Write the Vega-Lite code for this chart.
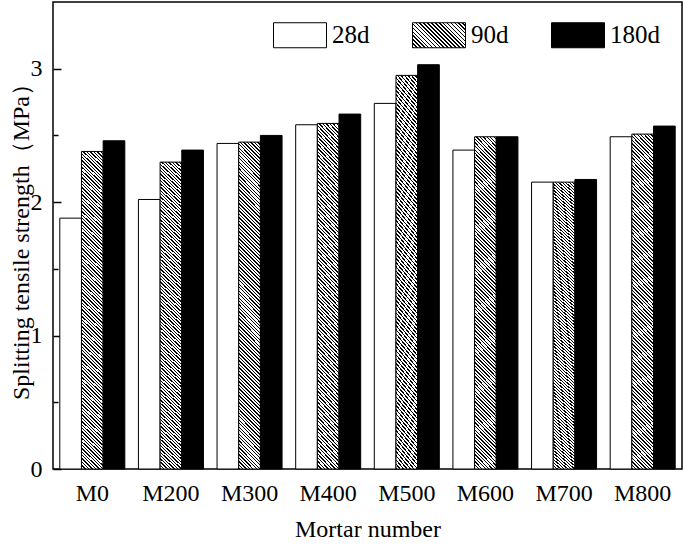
{
"$schema":"https://vega.github.io/schema/vega-lite/v6.json",
"width":629,"height":467,
"autosize":{"type":"none"},
"padding":{"left":53,"top":2,"right":3,"bottom":77},
"background":"white",
"params":[{"name":"hatchL","value":{"gradient":"linear","x1":0,"y1":1,"x2":1.204,"y2":0.432,"stops":[
{"offset":0,"color":"#000"},{"offset":0.02,"color":"#000"},{"offset":0.02,"color":"#fff"},{"offset":0.05,"color":"#fff"},
{"offset":0.05,"color":"#000"},{"offset":0.07,"color":"#000"},{"offset":0.07,"color":"#fff"},{"offset":0.1,"color":"#fff"},
{"offset":0.1,"color":"#000"},{"offset":0.12,"color":"#000"},{"offset":0.12,"color":"#fff"},{"offset":0.15,"color":"#fff"},
{"offset":0.15,"color":"#000"},{"offset":0.17,"color":"#000"},{"offset":0.17,"color":"#fff"},{"offset":0.2,"color":"#fff"},
{"offset":0.2,"color":"#000"},{"offset":0.22,"color":"#000"},{"offset":0.22,"color":"#fff"},{"offset":0.25,"color":"#fff"},
{"offset":0.25,"color":"#000"},{"offset":0.27,"color":"#000"},{"offset":0.27,"color":"#fff"},{"offset":0.3,"color":"#fff"},
{"offset":0.3,"color":"#000"},{"offset":0.32,"color":"#000"},{"offset":0.32,"color":"#fff"},{"offset":0.35,"color":"#fff"},
{"offset":0.35,"color":"#000"},{"offset":0.37,"color":"#000"},{"offset":0.37,"color":"#fff"},{"offset":0.4,"color":"#fff"},
{"offset":0.4,"color":"#000"},{"offset":0.42,"color":"#000"},{"offset":0.42,"color":"#fff"},{"offset":0.45,"color":"#fff"},
{"offset":0.45,"color":"#000"},{"offset":0.47,"color":"#000"},{"offset":0.47,"color":"#fff"},{"offset":0.5,"color":"#fff"},
{"offset":0.5,"color":"#000"},{"offset":0.52,"color":"#000"},{"offset":0.52,"color":"#fff"},{"offset":0.55,"color":"#fff"},
{"offset":0.55,"color":"#000"},{"offset":0.57,"color":"#000"},{"offset":0.57,"color":"#fff"},{"offset":0.6,"color":"#fff"},
{"offset":0.6,"color":"#000"},{"offset":0.62,"color":"#000"},{"offset":0.62,"color":"#fff"},{"offset":0.65,"color":"#fff"},
{"offset":0.65,"color":"#000"},{"offset":0.67,"color":"#000"},{"offset":0.67,"color":"#fff"},{"offset":0.7,"color":"#fff"},
{"offset":0.7,"color":"#000"},{"offset":0.72,"color":"#000"},{"offset":0.72,"color":"#fff"},{"offset":0.75,"color":"#fff"},
{"offset":0.75,"color":"#000"},{"offset":0.77,"color":"#000"},{"offset":0.77,"color":"#fff"},{"offset":0.8,"color":"#fff"},
{"offset":0.8,"color":"#000"},{"offset":0.82,"color":"#000"},{"offset":0.82,"color":"#fff"},{"offset":0.85,"color":"#fff"},
{"offset":0.85,"color":"#000"},{"offset":0.87,"color":"#000"},{"offset":0.87,"color":"#fff"},{"offset":0.9,"color":"#fff"},
{"offset":0.9,"color":"#000"},{"offset":0.92,"color":"#000"},{"offset":0.92,"color":"#fff"},{"offset":0.95,"color":"#fff"},
{"offset":0.95,"color":"#000"},{"offset":0.97,"color":"#000"},{"offset":0.97,"color":"#fff"},{"offset":1,"color":"#fff"}
]}}],
"config":{"view":{"stroke":"black","strokeWidth":1.5},"font":"'Liberation Serif', 'Times New Roman', serif",
"axis":{"labelColor":"black","titleColor":"black","labelFont":"'Liberation Serif', 'Times New Roman', serif","titleFont":"'Liberation Serif', 'Times New Roman', serif","tickColor":"black","grid":false,"domain":false,"titleFontWeight":"normal","labelFontSize":24,"titleFontSize":24}},
"data":{"values":[
{"mortar":"M0","age":"28d","value":1.88},{"mortar":"M0","age":"90d","value":2.38},{"mortar":"M0","age":"180d","value":2.46},
{"mortar":"M200","age":"28d","value":2.02},{"mortar":"M200","age":"90d","value":2.30},{"mortar":"M200","age":"180d","value":2.39},
{"mortar":"M300","age":"28d","value":2.44},{"mortar":"M300","age":"90d","value":2.45},{"mortar":"M300","age":"180d","value":2.50},
{"mortar":"M400","age":"28d","value":2.58},{"mortar":"M400","age":"90d","value":2.59},{"mortar":"M400","age":"180d","value":2.66},
{"mortar":"M500","age":"28d","value":2.74},{"mortar":"M500","age":"90d","value":2.95},{"mortar":"M500","age":"180d","value":3.03},
{"mortar":"M600","age":"28d","value":2.39},{"mortar":"M600","age":"90d","value":2.49},{"mortar":"M600","age":"180d","value":2.49},
{"mortar":"M700","age":"28d","value":2.15},{"mortar":"M700","age":"90d","value":2.15},{"mortar":"M700","age":"180d","value":2.17},
{"mortar":"M800","age":"28d","value":2.49},{"mortar":"M800","age":"90d","value":2.51},{"mortar":"M800","age":"180d","value":2.57}
]},
"layer":[
{"mark":{"type":"bar","stroke":"black","strokeWidth":1},
"encoding":{
"x":{"field":"mortar","type":"nominal","sort":["M0","M200","M300","M400","M500","M600","M700","M800"],"scale":{"paddingInner":0.173,"paddingOuter":0.0865},
"axis":{"title":"Mortar number","labelAngle":0,"ticks":false,"labelPadding":12,"titlePadding":12}},
"xOffset":{"field":"age","type":"nominal","sort":["28d","90d","180d"],"scale":{"paddingInner":0,"paddingOuter":0}},
"y":{"field":"value","type":"quantitative","scale":{"domain":[0,3.5],"nice":false,"zero":true},
"axis":{"title":"Splitting tensile strength（MPa）","values":[0,1,2,3],"tickSize":-8,"tickWidth":1.5,"labelPadding":19,"titlePadding":-3}},
"fill":{"field":"age","type":"nominal","scale":{"domain":["28d","90d","180d"],"range":["white",{"expr":"hatchL"},"black"]},
"condition":{"test":"datum.age === '90d'","value":{"gradient":"linear","x1":0,"y1":1,"x2":0.0708,"y2":-0.062,"stops":[
{"offset":0,"color":"#000"},{"offset":0.004,"color":"#000"},{"offset":0.004,"color":"#fff"},{"offset":0.01,"color":"#fff"},
{"offset":0.01,"color":"#000"},{"offset":0.014,"color":"#000"},{"offset":0.014,"color":"#fff"},{"offset":0.02,"color":"#fff"},
{"offset":0.02,"color":"#000"},{"offset":0.024,"color":"#000"},{"offset":0.024,"color":"#fff"},{"offset":0.03,"color":"#fff"},
{"offset":0.03,"color":"#000"},{"offset":0.034,"color":"#000"},{"offset":0.034,"color":"#fff"},{"offset":0.04,"color":"#fff"},
{"offset":0.04,"color":"#000"},{"offset":0.044,"color":"#000"},{"offset":0.044,"color":"#fff"},{"offset":0.05,"color":"#fff"},
{"offset":0.05,"color":"#000"},{"offset":0.054,"color":"#000"},{"offset":0.054,"color":"#fff"},{"offset":0.06,"color":"#fff"},
{"offset":0.06,"color":"#000"},{"offset":0.064,"color":"#000"},{"offset":0.064,"color":"#fff"},{"offset":0.07,"color":"#fff"},
{"offset":0.07,"color":"#000"},{"offset":0.074,"color":"#000"},{"offset":0.074,"color":"#fff"},{"offset":0.08,"color":"#fff"},
{"offset":0.08,"color":"#000"},{"offset":0.084,"color":"#000"},{"offset":0.084,"color":"#fff"},{"offset":0.09,"color":"#fff"},
{"offset":0.09,"color":"#000"},{"offset":0.094,"color":"#000"},{"offset":0.094,"color":"#fff"},{"offset":0.1,"color":"#fff"},
{"offset":0.1,"color":"#000"},{"offset":0.104,"color":"#000"},{"offset":0.104,"color":"#fff"},{"offset":0.11,"color":"#fff"},
{"offset":0.11,"color":"#000"},{"offset":0.114,"color":"#000"},{"offset":0.114,"color":"#fff"},{"offset":0.12,"color":"#fff"},
{"offset":0.12,"color":"#000"},{"offset":0.124,"color":"#000"},{"offset":0.124,"color":"#fff"},{"offset":0.13,"color":"#fff"},
{"offset":0.13,"color":"#000"},{"offset":0.134,"color":"#000"},{"offset":0.134,"color":"#fff"},{"offset":0.14,"color":"#fff"},
{"offset":0.14,"color":"#000"},{"offset":0.144,"color":"#000"},{"offset":0.144,"color":"#fff"},{"offset":0.15,"color":"#fff"},
{"offset":0.15,"color":"#000"},{"offset":0.154,"color":"#000"},{"offset":0.154,"color":"#fff"},{"offset":0.16,"color":"#fff"},
{"offset":0.16,"color":"#000"},{"offset":0.164,"color":"#000"},{"offset":0.164,"color":"#fff"},{"offset":0.17,"color":"#fff"},
{"offset":0.17,"color":"#000"},{"offset":0.174,"color":"#000"},{"offset":0.174,"color":"#fff"},{"offset":0.18,"color":"#fff"},
{"offset":0.18,"color":"#000"},{"offset":0.184,"color":"#000"},{"offset":0.184,"color":"#fff"},{"offset":0.19,"color":"#fff"},
{"offset":0.19,"color":"#000"},{"offset":0.194,"color":"#000"},{"offset":0.194,"color":"#fff"},{"offset":0.2,"color":"#fff"},
{"offset":0.2,"color":"#000"},{"offset":0.204,"color":"#000"},{"offset":0.204,"color":"#fff"},{"offset":0.21,"color":"#fff"},
{"offset":0.21,"color":"#000"},{"offset":0.214,"color":"#000"},{"offset":0.214,"color":"#fff"},{"offset":0.22,"color":"#fff"},
{"offset":0.22,"color":"#000"},{"offset":0.224,"color":"#000"},{"offset":0.224,"color":"#fff"},{"offset":0.23,"color":"#fff"},
{"offset":0.23,"color":"#000"},{"offset":0.234,"color":"#000"},{"offset":0.234,"color":"#fff"},{"offset":0.24,"color":"#fff"},
{"offset":0.24,"color":"#000"},{"offset":0.244,"color":"#000"},{"offset":0.244,"color":"#fff"},{"offset":0.25,"color":"#fff"},
{"offset":0.25,"color":"#000"},{"offset":0.254,"color":"#000"},{"offset":0.254,"color":"#fff"},{"offset":0.26,"color":"#fff"},
{"offset":0.26,"color":"#000"},{"offset":0.264,"color":"#000"},{"offset":0.264,"color":"#fff"},{"offset":0.27,"color":"#fff"},
{"offset":0.27,"color":"#000"},{"offset":0.274,"color":"#000"},{"offset":0.274,"color":"#fff"},{"offset":0.28,"color":"#fff"},
{"offset":0.28,"color":"#000"},{"offset":0.284,"color":"#000"},{"offset":0.284,"color":"#fff"},{"offset":0.29,"color":"#fff"},
{"offset":0.29,"color":"#000"},{"offset":0.294,"color":"#000"},{"offset":0.294,"color":"#fff"},{"offset":0.3,"color":"#fff"},
{"offset":0.3,"color":"#000"},{"offset":0.304,"color":"#000"},{"offset":0.304,"color":"#fff"},{"offset":0.31,"color":"#fff"},
{"offset":0.31,"color":"#000"},{"offset":0.314,"color":"#000"},{"offset":0.314,"color":"#fff"},{"offset":0.32,"color":"#fff"},
{"offset":0.32,"color":"#000"},{"offset":0.324,"color":"#000"},{"offset":0.324,"color":"#fff"},{"offset":0.33,"color":"#fff"},
{"offset":0.33,"color":"#000"},{"offset":0.334,"color":"#000"},{"offset":0.334,"color":"#fff"},{"offset":0.34,"color":"#fff"},
{"offset":0.34,"color":"#000"},{"offset":0.344,"color":"#000"},{"offset":0.344,"color":"#fff"},{"offset":0.35,"color":"#fff"},
{"offset":0.35,"color":"#000"},{"offset":0.354,"color":"#000"},{"offset":0.354,"color":"#fff"},{"offset":0.36,"color":"#fff"},
{"offset":0.36,"color":"#000"},{"offset":0.364,"color":"#000"},{"offset":0.364,"color":"#fff"},{"offset":0.37,"color":"#fff"},
{"offset":0.37,"color":"#000"},{"offset":0.374,"color":"#000"},{"offset":0.374,"color":"#fff"},{"offset":0.38,"color":"#fff"},
{"offset":0.38,"color":"#000"},{"offset":0.384,"color":"#000"},{"offset":0.384,"color":"#fff"},{"offset":0.39,"color":"#fff"},
{"offset":0.39,"color":"#000"},{"offset":0.394,"color":"#000"},{"offset":0.394,"color":"#fff"},{"offset":0.4,"color":"#fff"},
{"offset":0.4,"color":"#000"},{"offset":0.404,"color":"#000"},{"offset":0.404,"color":"#fff"},{"offset":0.41,"color":"#fff"},
{"offset":0.41,"color":"#000"},{"offset":0.414,"color":"#000"},{"offset":0.414,"color":"#fff"},{"offset":0.42,"color":"#fff"},
{"offset":0.42,"color":"#000"},{"offset":0.424,"color":"#000"},{"offset":0.424,"color":"#fff"},{"offset":0.43,"color":"#fff"},
{"offset":0.43,"color":"#000"},{"offset":0.434,"color":"#000"},{"offset":0.434,"color":"#fff"},{"offset":0.44,"color":"#fff"},
{"offset":0.44,"color":"#000"},{"offset":0.444,"color":"#000"},{"offset":0.444,"color":"#fff"},{"offset":0.45,"color":"#fff"},
{"offset":0.45,"color":"#000"},{"offset":0.454,"color":"#000"},{"offset":0.454,"color":"#fff"},{"offset":0.46,"color":"#fff"},
{"offset":0.46,"color":"#000"},{"offset":0.464,"color":"#000"},{"offset":0.464,"color":"#fff"},{"offset":0.47,"color":"#fff"},
{"offset":0.47,"color":"#000"},{"offset":0.474,"color":"#000"},{"offset":0.474,"color":"#fff"},{"offset":0.48,"color":"#fff"},
{"offset":0.48,"color":"#000"},{"offset":0.484,"color":"#000"},{"offset":0.484,"color":"#fff"},{"offset":0.49,"color":"#fff"},
{"offset":0.49,"color":"#000"},{"offset":0.494,"color":"#000"},{"offset":0.494,"color":"#fff"},{"offset":0.5,"color":"#fff"},
{"offset":0.5,"color":"#000"},{"offset":0.504,"color":"#000"},{"offset":0.504,"color":"#fff"},{"offset":0.51,"color":"#fff"},
{"offset":0.51,"color":"#000"},{"offset":0.514,"color":"#000"},{"offset":0.514,"color":"#fff"},{"offset":0.52,"color":"#fff"},
{"offset":0.52,"color":"#000"},{"offset":0.524,"color":"#000"},{"offset":0.524,"color":"#fff"},{"offset":0.53,"color":"#fff"},
{"offset":0.53,"color":"#000"},{"offset":0.534,"color":"#000"},{"offset":0.534,"color":"#fff"},{"offset":0.54,"color":"#fff"},
{"offset":0.54,"color":"#000"},{"offset":0.544,"color":"#000"},{"offset":0.544,"color":"#fff"},{"offset":0.55,"color":"#fff"},
{"offset":0.55,"color":"#000"},{"offset":0.554,"color":"#000"},{"offset":0.554,"color":"#fff"},{"offset":0.56,"color":"#fff"},
{"offset":0.56,"color":"#000"},{"offset":0.564,"color":"#000"},{"offset":0.564,"color":"#fff"},{"offset":0.57,"color":"#fff"},
{"offset":0.57,"color":"#000"},{"offset":0.574,"color":"#000"},{"offset":0.574,"color":"#fff"},{"offset":0.58,"color":"#fff"},
{"offset":0.58,"color":"#000"},{"offset":0.584,"color":"#000"},{"offset":0.584,"color":"#fff"},{"offset":0.59,"color":"#fff"},
{"offset":0.59,"color":"#000"},{"offset":0.594,"color":"#000"},{"offset":0.594,"color":"#fff"},{"offset":0.6,"color":"#fff"},
{"offset":0.6,"color":"#000"},{"offset":0.604,"color":"#000"},{"offset":0.604,"color":"#fff"},{"offset":0.61,"color":"#fff"},
{"offset":0.61,"color":"#000"},{"offset":0.614,"color":"#000"},{"offset":0.614,"color":"#fff"},{"offset":0.62,"color":"#fff"},
{"offset":0.62,"color":"#000"},{"offset":0.624,"color":"#000"},{"offset":0.624,"color":"#fff"},{"offset":0.63,"color":"#fff"},
{"offset":0.63,"color":"#000"},{"offset":0.634,"color":"#000"},{"offset":0.634,"color":"#fff"},{"offset":0.64,"color":"#fff"},
{"offset":0.64,"color":"#000"},{"offset":0.644,"color":"#000"},{"offset":0.644,"color":"#fff"},{"offset":0.65,"color":"#fff"},
{"offset":0.65,"color":"#000"},{"offset":0.654,"color":"#000"},{"offset":0.654,"color":"#fff"},{"offset":0.66,"color":"#fff"},
{"offset":0.66,"color":"#000"},{"offset":0.664,"color":"#000"},{"offset":0.664,"color":"#fff"},{"offset":0.67,"color":"#fff"},
{"offset":0.67,"color":"#000"},{"offset":0.674,"color":"#000"},{"offset":0.674,"color":"#fff"},{"offset":0.68,"color":"#fff"},
{"offset":0.68,"color":"#000"},{"offset":0.684,"color":"#000"},{"offset":0.684,"color":"#fff"},{"offset":0.69,"color":"#fff"},
{"offset":0.69,"color":"#000"},{"offset":0.694,"color":"#000"},{"offset":0.694,"color":"#fff"},{"offset":0.7,"color":"#fff"},
{"offset":0.7,"color":"#000"},{"offset":0.704,"color":"#000"},{"offset":0.704,"color":"#fff"},{"offset":0.71,"color":"#fff"},
{"offset":0.71,"color":"#000"},{"offset":0.714,"color":"#000"},{"offset":0.714,"color":"#fff"},{"offset":0.72,"color":"#fff"},
{"offset":0.72,"color":"#000"},{"offset":0.724,"color":"#000"},{"offset":0.724,"color":"#fff"},{"offset":0.73,"color":"#fff"},
{"offset":0.73,"color":"#000"},{"offset":0.734,"color":"#000"},{"offset":0.734,"color":"#fff"},{"offset":0.74,"color":"#fff"},
{"offset":0.74,"color":"#000"},{"offset":0.744,"color":"#000"},{"offset":0.744,"color":"#fff"},{"offset":0.75,"color":"#fff"},
{"offset":0.75,"color":"#000"},{"offset":0.754,"color":"#000"},{"offset":0.754,"color":"#fff"},{"offset":0.76,"color":"#fff"},
{"offset":0.76,"color":"#000"},{"offset":0.764,"color":"#000"},{"offset":0.764,"color":"#fff"},{"offset":0.77,"color":"#fff"},
{"offset":0.77,"color":"#000"},{"offset":0.774,"color":"#000"},{"offset":0.774,"color":"#fff"},{"offset":0.78,"color":"#fff"},
{"offset":0.78,"color":"#000"},{"offset":0.784,"color":"#000"},{"offset":0.784,"color":"#fff"},{"offset":0.79,"color":"#fff"},
{"offset":0.79,"color":"#000"},{"offset":0.794,"color":"#000"},{"offset":0.794,"color":"#fff"},{"offset":0.8,"color":"#fff"},
{"offset":0.8,"color":"#000"},{"offset":0.804,"color":"#000"},{"offset":0.804,"color":"#fff"},{"offset":0.81,"color":"#fff"},
{"offset":0.81,"color":"#000"},{"offset":0.814,"color":"#000"},{"offset":0.814,"color":"#fff"},{"offset":0.82,"color":"#fff"},
{"offset":0.82,"color":"#000"},{"offset":0.824,"color":"#000"},{"offset":0.824,"color":"#fff"},{"offset":0.83,"color":"#fff"},
{"offset":0.83,"color":"#000"},{"offset":0.834,"color":"#000"},{"offset":0.834,"color":"#fff"},{"offset":0.84,"color":"#fff"},
{"offset":0.84,"color":"#000"},{"offset":0.844,"color":"#000"},{"offset":0.844,"color":"#fff"},{"offset":0.85,"color":"#fff"},
{"offset":0.85,"color":"#000"},{"offset":0.854,"color":"#000"},{"offset":0.854,"color":"#fff"},{"offset":0.86,"color":"#fff"},
{"offset":0.86,"color":"#000"},{"offset":0.864,"color":"#000"},{"offset":0.864,"color":"#fff"},{"offset":0.87,"color":"#fff"},
{"offset":0.87,"color":"#000"},{"offset":0.874,"color":"#000"},{"offset":0.874,"color":"#fff"},{"offset":0.88,"color":"#fff"},
{"offset":0.88,"color":"#000"},{"offset":0.884,"color":"#000"},{"offset":0.884,"color":"#fff"},{"offset":0.89,"color":"#fff"},
{"offset":0.89,"color":"#000"},{"offset":0.894,"color":"#000"},{"offset":0.894,"color":"#fff"},{"offset":0.9,"color":"#fff"},
{"offset":0.9,"color":"#000"},{"offset":0.904,"color":"#000"},{"offset":0.904,"color":"#fff"},{"offset":0.91,"color":"#fff"},
{"offset":0.91,"color":"#000"},{"offset":0.914,"color":"#000"},{"offset":0.914,"color":"#fff"},{"offset":0.92,"color":"#fff"},
{"offset":0.92,"color":"#000"},{"offset":0.924,"color":"#000"},{"offset":0.924,"color":"#fff"},{"offset":0.93,"color":"#fff"},
{"offset":0.93,"color":"#000"},{"offset":0.934,"color":"#000"},{"offset":0.934,"color":"#fff"},{"offset":0.94,"color":"#fff"},
{"offset":0.94,"color":"#000"},{"offset":0.944,"color":"#000"},{"offset":0.944,"color":"#fff"},{"offset":0.95,"color":"#fff"},
{"offset":0.95,"color":"#000"},{"offset":0.954,"color":"#000"},{"offset":0.954,"color":"#fff"},{"offset":0.96,"color":"#fff"},
{"offset":0.96,"color":"#000"},{"offset":0.964,"color":"#000"},{"offset":0.964,"color":"#fff"},{"offset":0.97,"color":"#fff"},
{"offset":0.97,"color":"#000"},{"offset":0.974,"color":"#000"},{"offset":0.974,"color":"#fff"},{"offset":0.98,"color":"#fff"},
{"offset":0.98,"color":"#000"},{"offset":0.984,"color":"#000"},{"offset":0.984,"color":"#fff"},{"offset":0.99,"color":"#fff"},
{"offset":0.99,"color":"#000"},{"offset":0.994,"color":"#000"},{"offset":0.994,"color":"#fff"},{"offset":1,"color":"#fff"}
]}},
"legend":{"title":null,"orient":"none","legendX":220,"legendY":6,"direction":"horizontal","columns":3,"columnPadding":40,"padding":0,
"symbolType":"M-1,-0.472H1V0.472H-1Z","symbolSize":2809,"symbolStrokeColor":"black","symbolStrokeWidth":1,"symbolOpacity":1,
"labelFontSize":25,"labelFont":"'Liberation Serif', 'Times New Roman', serif","labelColor":"black","labelOffset":5}
}}},
{"mark":{"type":"rule","opacity":0},
"encoding":{"y":{"datum":0,"type":"quantitative",
"axis":{"orient":"left","values":[0.5,1.5,2.5],"tickSize":-5,"tickWidth":1.5,"labels":false,"domain":false,"title":null}}}}
],
"resolve":{"axis":{"y":"independent"}}
}
